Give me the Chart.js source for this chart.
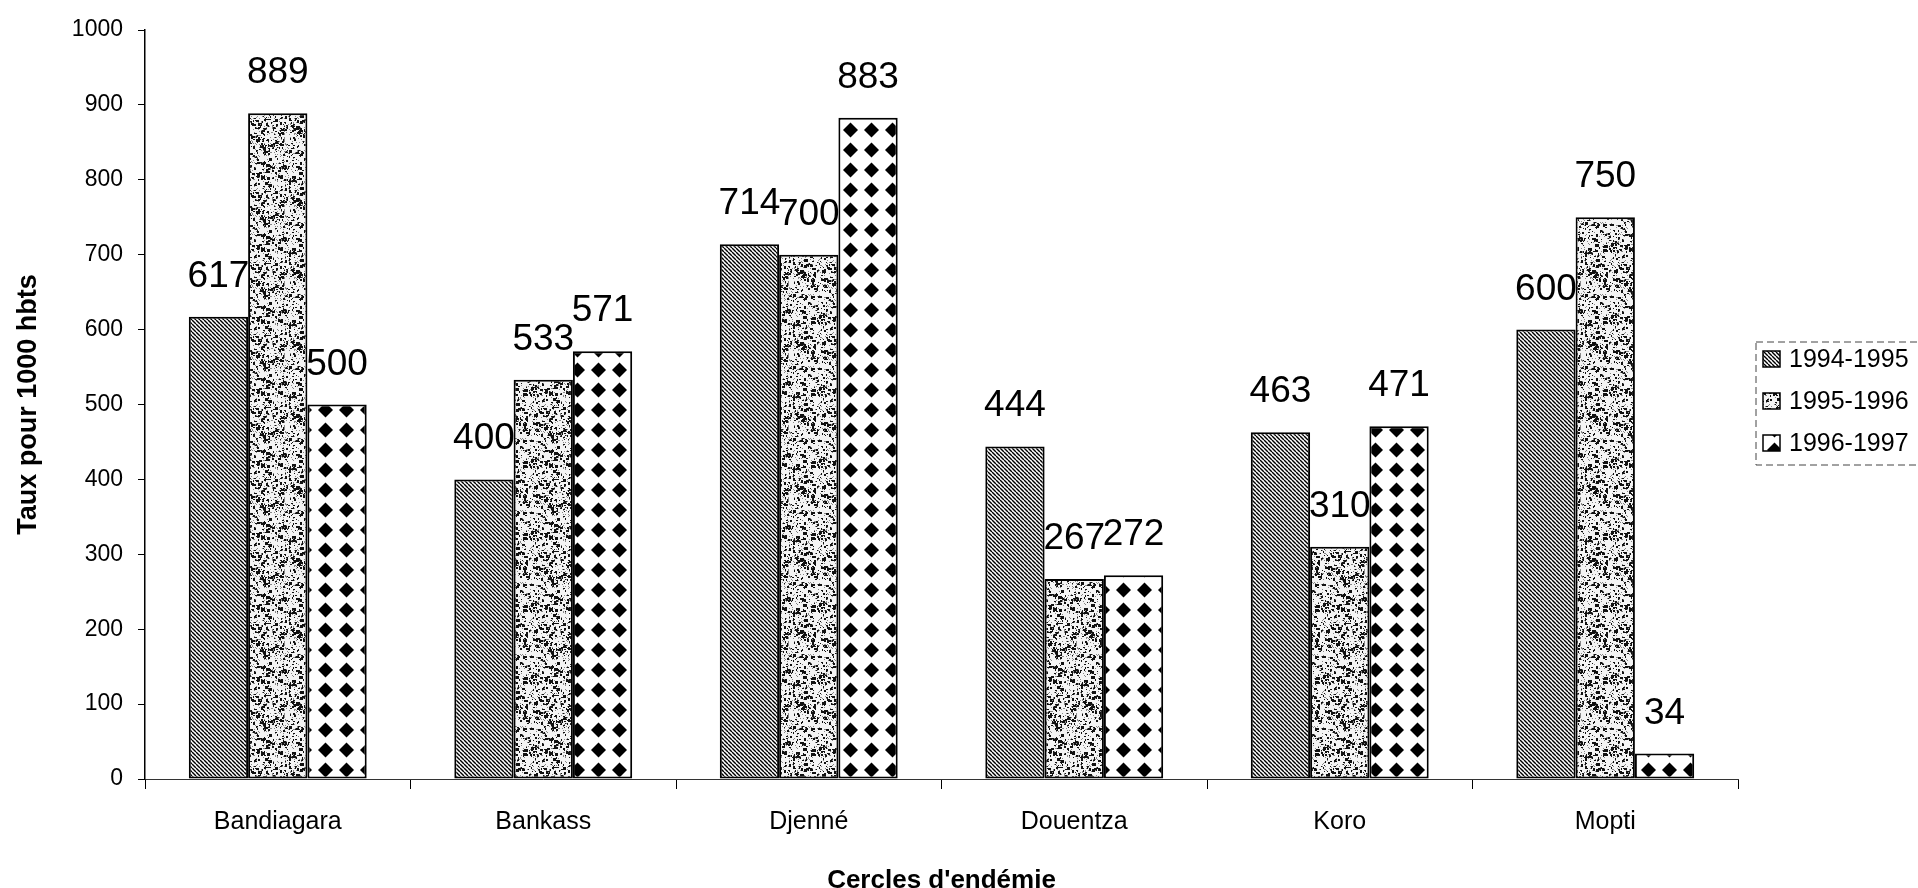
<!DOCTYPE html>
<html>
<head>
<meta charset="utf-8">
<script src="https://cdn.jsdelivr.net/npm/chart.js@4/dist/chart.umd.min.js"></script>
<style>
  html, body { margin: 0; padding: 0; background: #fff; }
  #wrap { width: 1918px; height: 888px; position: relative; }
</style>
</head>
<body>
<div id="wrap"><canvas id="chart"></canvas></div>
<script>
// data
const categories = ['Bandiagara', 'Bankass', 'Djenné', 'Douentza', 'Koro', 'Mopti'];
const seriesNames = ['1994-1995', '1995-1996', '1996-1997'];
const values9495 = [617, 400, 714, 444, 463, 600];
const values9596 = [889, 533, 700, 267, 310, 750];
const values9697 = [500, 571, 883, 272, 471, 34];

const FONT = '"Liberation Sans", Arial, sans-serif';

// --- fill patterns (imitating the old Excel print) ---
function makeHatch() {
    const s = 4;
    const c = document.createElement('canvas');
    c.width = s; c.height = s;
    const g = c.getContext('2d');
    g.fillStyle = '#fff';
    g.fillRect(0, 0, s, s);
    g.strokeStyle = '#000';
    g.lineWidth = 1.4;
    for (let x0 = -s; x0 <= s; x0 += s) {
        g.beginPath();
        g.moveTo(x0, 0);
        g.lineTo(x0 + s, s);
        g.stroke();
    }
    return g.createPattern(c, 'repeat');
}

function makeSpeckle() {
    const s = 72;
    const c = document.createElement('canvas');
    c.width = s; c.height = s;
    const g = c.getContext('2d');
    g.fillStyle = '#f4f4f4';
    g.fillRect(0, 0, s, s);
    // small deterministic generator, only used for the texture
    let seed = 12345;
    const rnd = () => { seed = (seed * 1103515245 + 12345) % 2147483648; return seed / 2147483648; };
    g.fillStyle = '#111';
    for (let i = 0; i < 380; i++) {
        const w = 1 + Math.floor(rnd() * 2);
        const h = 1 + Math.floor(rnd() * 2);
        g.fillRect(Math.floor(rnd() * s), Math.floor(rnd() * s), w, h);
    }
    for (let i = 0; i < 110; i++) {
        const x = Math.floor(rnd() * s), y = Math.floor(rnd() * s);
        g.fillRect(x, y, 2 + Math.floor(rnd() * 3), 2 + Math.floor(rnd() * 2));
    }
    g.fillStyle = '#888';
    for (let i = 0; i < 400; i++) {
        g.fillRect(Math.floor(rnd() * s), Math.floor(rnd() * s), 1, 1);
    }
    return g.createPattern(c, 'repeat');
}

function makeDiamonds() {
    const w = 21, h = 20;
    const c = document.createElement('canvas');
    c.width = w; c.height = h;
    const g = c.getContext('2d');
    g.fillStyle = '#fff';
    g.fillRect(0, 0, w, h);
    g.fillStyle = '#000';
    const cx = w / 2, cy = h / 2, r = 7.5;
    g.beginPath();
    g.moveTo(cx, cy - r);
    g.lineTo(cx + r, cy);
    g.lineTo(cx, cy + r);
    g.lineTo(cx - r, cy);
    g.closePath();
    g.fill();
    return g.createPattern(c, 'repeat');
}

const fills = [makeHatch(), makeSpeckle(), makeDiamonds()];

// value above every bar
const valueLabels = {
    id: 'valueLabels',
    afterDatasetsDraw(chart) {
        const ctx = chart.ctx;
        ctx.save();
        ctx.font = '37px ' + FONT;
        ctx.fillStyle = '#000';
        ctx.textAlign = 'center';
        ctx.textBaseline = 'alphabetic';
        chart.data.datasets.forEach((ds, i) => {
            chart.getDatasetMeta(i).data.forEach((bar, j) => {
                ctx.fillText(String(ds.data[j]), bar.x, bar.y - 30);
            });
        });
        ctx.restore();
    }
};

// boxed legend on the right, like the original
const sideLegend = {
    id: 'sideLegend',
    afterDraw(chart) {
        const ctx = chart.ctx;
        const left = chart.chartArea.right + 18;
        const top = 342;
        const rowH = 42;
        ctx.save();
        ctx.strokeStyle = '#444';
        ctx.lineWidth = 1;
        ctx.setLineDash([7, 4]);
        ctx.strokeRect(left, top, 200, 123);
        ctx.setLineDash([]);
        ctx.font = '25px ' + FONT;
        ctx.textBaseline = 'middle';
        ctx.textAlign = 'left';
        chart.data.datasets.forEach((ds, i) => {
            const y = top + 17 + i * rowH;
            ctx.fillStyle = ds.backgroundColor;
            ctx.fillRect(left + 7, y - 8, 17, 16);
            ctx.strokeStyle = '#000';
            ctx.lineWidth = 1.5;
            ctx.strokeRect(left + 7, y - 8, 17, 16);
            ctx.fillStyle = '#000';
            ctx.fillText(ds.label, left + 33, y + 1);
        });
        ctx.restore();
    }
};

const seriesValues = [values9495, values9596, values9697];
const datasets = seriesNames.map((name, i) => ({
    label: name,
    data: seriesValues[i],
    backgroundColor: fills[i],
    borderColor: '#000',
    borderWidth: 2,
    borderSkipped: false,
    categoryPercentage: 0.67,
    barPercentage: 1.0
}));

new Chart(document.getElementById('chart'), {
    type: 'bar',
    data: { labels: categories, datasets: datasets },
    options: {
        responsive: true,
        maintainAspectRatio: false,
        devicePixelRatio: 1,
        animation: false,
        layout: { padding: { left: 0, right: 180, top: 30, bottom: 0 } },
        plugins: {
            legend: { display: false },
            tooltip: { enabled: false }
        },
        scales: {
            x: {
                grid: { display: true, drawOnChartArea: false, drawTicks: true, tickLength: 10, color: '#000', lineWidth: 1 },
                border: { display: true, color: '#333', width: 1 },
                ticks: { color: '#000', font: { family: FONT, size: 25 }, padding: 18, maxRotation: 0 },
                title: {
                    display: true,
                    text: "Cercles d'endémie",
                    color: '#000',
                    font: { family: FONT, size: 26, weight: 'bold', lineHeight: 1 },
                    padding: { top: 0, bottom: -6 }
                },
                afterFit: (scale) => { scale.height = 109; }
            },
            y: {
                min: 0,
                max: 1000,
                grid: { display: true, drawOnChartArea: false, drawTicks: true, tickLength: 7, color: '#000', lineWidth: 1 },
                border: { display: true, color: '#000', width: 1.5 },
                ticks: {
                    stepSize: 100,
                    color: '#000',
                    font: { family: FONT, size: 23 },
                    padding: 15,
                    callback: (v) => String(v)
                },
                title: {
                    display: true,
                    text: 'Taux pour 1000 hbts',
                    color: '#000',
                    font: { family: FONT, size: 27, weight: 'bold', lineHeight: 1 },
                    padding: { top: 15, bottom: 0 }
                },
                afterFit: (scale) => { scale.width = 145; }
            }
        }
    },
    plugins: [valueLabels, sideLegend]
});
</script>
</body>
</html>
